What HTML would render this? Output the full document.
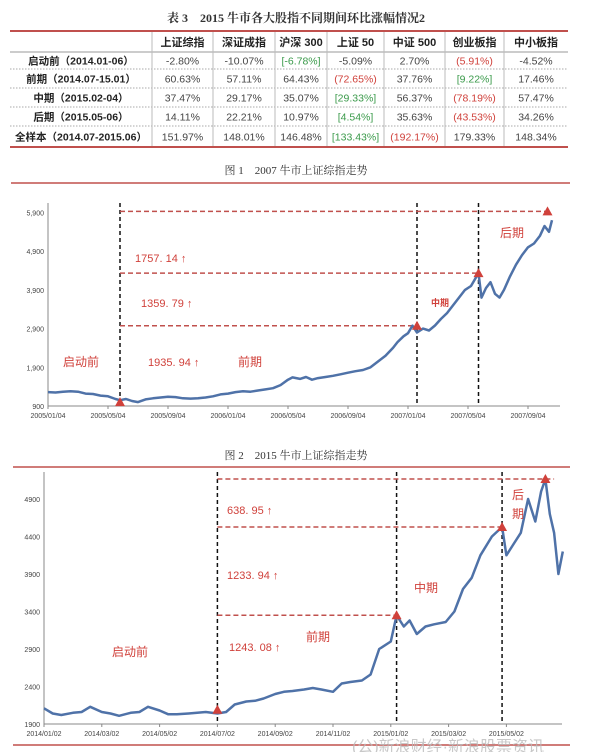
<!DOCTYPE html>
<html><head><meta charset="utf-8">
<style>
html,body{margin:0;padding:0;background:#fff;}
svg{display:block;font-family:"Liberation Sans","Noto Sans CJK SC",sans-serif;}
.serif{font-family:"Liberation Serif","Noto Serif CJK SC",serif;}
</style></head>
<body>
<svg id="page" width="593" height="752" viewBox="0 0 593 752" xmlns="http://www.w3.org/2000/svg">
  <text class="serif" x="296" y="22" text-anchor="middle" font-size="12" font-weight="bold" fill="#333">表 3　2015 牛市各大股指不同期间环比涨幅情况2</text>
  <g id="table"></g>

  <text class="serif" x="296" y="174" text-anchor="middle" font-size="11" fill="#333">图 1　2007 牛市上证综指走势</text>
  <line x1="11" y1="183" x2="570" y2="183" stroke="#c0504d" stroke-width="1.5"/>
  <g id="chart1"></g>

  <text class="serif" x="296" y="459" text-anchor="middle" font-size="11" fill="#333">图 2　2015 牛市上证综指走势</text>
  <line x1="13" y1="467" x2="570" y2="467" stroke="#c0504d" stroke-width="1.5"/>
  <g id="chart2"></g>
  <line x1="13" y1="745" x2="570" y2="745" stroke="#c0504d" stroke-width="1.5"/>
  <text x="352" y="752" font-size="16" fill="#bbb" opacity="0.8">(公)新浪财经·新浪股票资讯</text>
</svg>
<script>
// ---------- table data ----------
const tableHeaders = ["上证综指","深证成指","沪深 300","上证 50","中证 500","创业板指","中小板指"];
const tableRowLabels = ["启动前（2014.01-06）","前期（2014.07-15.01）","中期（2015.02-04）","后期（2015.05-06）","全样本（2014.07-2015.06）"];
const tableValues = [
  ["-2.80%","-10.07%","[-6.78%]","-5.09%","2.70%","(5.91%)","-4.52%"],
  ["60.63%","57.11%","64.43%","(72.65%)","37.76%","[9.22%]","17.46%"],
  ["37.47%","29.17%","35.07%","[29.33%]","56.37%","(78.19%)","57.47%"],
  ["14.11%","22.21%","10.97%","[4.54%]","35.63%","(43.53%)","34.26%"],
  ["151.97%","148.01%","146.48%","[133.43%]","(192.17%)","179.33%","148.34%"]
];

// ---------- chart 1 data (months since 2005/01/04, index value) ----------
const c1Months = [0,0.5,1,1.5,2,2.5,3,3.5,4,4.5,4.8,5.2,5.6,6,6.5,7,7.5,8,8.5,9,9.5,10,10.5,11,11.5,12,12.5,13,13.5,14,14.5,15,15.5,16,16.3,16.8,17.2,17.6,18,18.5,19,19.5,20,20.5,21,21.5,22,22.5,23,23.3,23.7,24,24.3,24.6,25,25.4,25.8,26.2,26.6,27,27.4,27.8,28.2,28.7,28.9,29.2,29.5,29.8,30.1,30.4,30.8,31.2,31.6,32,32.4,32.8,33.1,33.4,33.6];
const c1Values = [1260,1250,1270,1280,1270,1220,1210,1170,1150,1080,1050,1080,1030,1000,1070,1100,1120,1140,1130,1100,1090,1100,1120,1150,1200,1220,1260,1280,1270,1300,1330,1360,1440,1580,1640,1600,1650,1580,1620,1650,1680,1720,1760,1800,1830,1900,2050,2200,2400,2550,2700,2780,2975,2800,2900,2850,2980,3150,3300,3500,3700,3900,4000,4335,3700,3950,4100,3800,3700,3900,4250,4550,4800,5000,5100,5300,5550,5400,5700];
const c1Ticks = [900,1900,2900,3900,4900,5900];
const c1TickLabels = ["900","1,900","2,900","3,900","4,900","5,900"];
const c1XLabels = ["2005/01/04","2005/05/04","2005/09/04","2006/01/04","2006/05/04","2006/09/04","2007/01/04","2007/05/04","2007/09/04"];
const c1XMonths = [0,4,8,12,16,20,24,28,32];
const c1VLines = [4.8,24.6,28.7];
const c1Marks = [[4.8,1000],[24.6,2975],[28.7,4335],[33.3,5930]];
const c1HLevels = [[2975,24.6],[4335,28.7],[5930,33.6]];

// ---------- chart 2 data (months since 2014/01/02) ----------
const c2Months = [0,0.3,0.6,1,1.3,1.6,2,2.3,2.6,3,3.3,3.6,4,4.3,4.6,5,5.3,5.6,6,6.3,6.6,7,7.3,7.6,8,8.3,8.6,9,9.3,9.6,10,10.3,10.6,11,11.3,11.6,12,12.2,12.45,12.65,12.9,13.2,13.5,13.9,14.2,14.5,14.8,15.1,15.5,15.85,16.0,16.25,16.5,16.75,17.0,17.2,17.35,17.5,17.65,17.8,17.95];
const c2Values = [2110,2040,2020,2050,2060,2130,2060,2040,2010,2050,2060,2130,2080,2030,2030,2040,2050,2060,2040,2060,2160,2200,2210,2240,2300,2330,2340,2360,2380,2360,2330,2440,2460,2480,2560,2900,3000,3350,3200,3280,3100,3200,3230,3260,3400,3700,3850,4150,4400,4527,4150,4300,4450,4900,4600,5000,5166,4700,4450,3900,4200];
const c2Ticks = [1900,2400,2900,3400,3900,4400,4900];
const c2TickLabels = ["1900","2400","2900","3400","3900","4400","4900"];
const c2XLabels = ["2014/01/02","2014/03/02","2014/05/02","2014/07/02","2014/09/02","2014/11/02","2015/01/02","2015/03/02","2015/05/02"];
const c2XMonths = [0,2,4,6,8,10,12,14,16];
const c2VLines = [6,12.2,15.85];
const c2Marks = [[6,2090],[12.2,3350],[15.85,4527],[17.35,5166]];
const c2HLevels = [[3350,12.2],[4527,15.85],[5166,17.65]];

const NS = "http://www.w3.org/2000/svg";
function mk(tag, attrs, parent, text){
  const e = document.createElementNS(NS, tag);
  for (const k in attrs) e.setAttribute(k, attrs[k]);
  if (text !== undefined) e.textContent = text;
  parent.appendChild(e);
  return e;
}

// ---------- table ----------
(function(){
  const g = document.getElementById('table');
  const colX = [10,152,213,275,327,384,445,504,568];
  const rowY = [31,52,69,88,107,126,147];
  for (let i=2;i<rowY.length-1;i++){
    const l = mk('line',{x1:10,y1:rowY[i],x2:568,y2:rowY[i],stroke:'#aaa','stroke-dasharray':'1.5,1.5','stroke-width':1},g);
    
    
  }
  const hb = mk('line',{x1:10,y1:52,x2:568,y2:52,stroke:'#999','stroke-width':1},g);
  
  
  for (let j=1;j<colX.length-1;j++){
    const l = mk('line',{x1:colX[j],y1:31,x2:colX[j],y2:147,stroke:'#bbb','stroke-width':1},g);
    
    
  }
  const t = mk('line',{x1:10,y1:31,x2:568,y2:31,stroke:'#c0504d','stroke-width':2},g);
  
  
  const b = mk('line',{x1:10,y1:147,x2:568,y2:147,stroke:'#c0504d','stroke-width':2},g);
  
  
  tableHeaders.forEach((h,j)=>{
    const e = mk('text',{x:(colX[j+1]+colX[j+2])/2,y:46,'text-anchor':'middle','font-size':11,'font-weight':'bold',fill:'#222'},g,h);
    
    
  });
  tableRowLabels.forEach((r,i)=>{
    const y = (rowY[i+1]+rowY[i+2])/2+4;
    const e = mk('text',{x:(colX[0]+colX[1])/2,y:y,'text-anchor':'middle','font-size':10.5,'font-weight':'bold',fill:'#222'},g,r);
    
    
    tableValues[i].forEach((v,j)=>{
      let c = '#444';
      if (v[0]==='(') c = '#d0413b';
      if (v[0]==='[') c = '#3a9a4a';
      const c2 = mk('text',{x:(colX[j+1]+colX[j+2])/2,y:y,'text-anchor':'middle','font-size':10.5,fill:c},g,v);
      
      
    });
  });
})();

// ---------- chart builder ----------
function drawChart(cfg){
  const g = document.getElementById(cfg.id);
  const X = m => cfg.x0 + m*cfg.mpx;
  const Y = v => cfg.yBase - (v-cfg.vMin)/cfg.vStep*cfg.ypx;
  const ax = mk('line',{x1:cfg.x0,y1:Y(cfg.vMin),x2:cfg.xEnd,y2:Y(cfg.vMin),stroke:'#888','stroke-width':1},g);
  
  
  const ay = mk('line',{x1:cfg.x0,y1:Y(cfg.vMin),x2:cfg.x0,y2:cfg.yTop,stroke:'#888','stroke-width':1},g);
  
  
  cfg.ticks.forEach((v,i)=>{
    const e = mk('text',{x:cfg.x0-4,y:Y(v)+3,'text-anchor':'end','font-size':7,fill:'#444'},g,cfg.tickLabels[i]);
    
    
  });
  cfg.xMonths.forEach((m,i)=>{
    const tk = mk('line',{x1:X(m),y1:Y(cfg.vMin),x2:X(m),y2:Y(cfg.vMin)+3,stroke:'#888'},g);
    
    
    const e = mk('text',{x:X(m),y:Y(cfg.vMin)+12,'text-anchor':'middle','font-size':7,fill:'#444'},g,cfg.xLabels[i]);
    
    
  });
  cfg.vLines.forEach(m=>{
    const l = mk('line',{x1:X(m),y1:cfg.yTop,x2:X(m),y2:Y(cfg.vMin),stroke:'#111','stroke-width':1.5,'stroke-dasharray':'4,3'},g);
    
    
  });
  cfg.hLevels.forEach(h=>{
    const l = mk('line',{x1:X(cfg.vLines[0]),y1:Y(h[0]),x2:X(h[1]),y2:Y(h[0]),stroke:'#c0504d','stroke-width':1.5,'stroke-dasharray':'5,3'},g);
    
    
  });
  let d = '';
  cfg.months.forEach((m,i)=>{ d += (i?'L':'M') + X(m).toFixed(1) + ',' + Y(cfg.values[i]).toFixed(1); });
  const p = mk('path',{d:d,fill:'none',stroke:'#4f72a8','stroke-width':2.5,'stroke-linejoin':'round'},g);
  
  
  cfg.marks.forEach(mv=>{
    const x = X(mv[0]), y = Y(mv[1]);
    const t = mk('polygon',{points:`${x-5},${y+4} ${x+5},${y+4} ${x},${y-5}`,fill:'#d0413b'},g);
    
    
  });
  cfg.labels.forEach(lb=>{
    const e = mk('text',{x:lb[0],y:lb[1],'font-size':lb[3],fill:'#d0413b','font-weight':lb[4]||'normal'},g,lb[2]);
    
    
  });
}

drawChart({id:'chart1',x0:48,mpx:15,xEnd:560,yBase:406,vMin:900,vStep:1000,ypx:38.7,yTop:203,
  months:c1Months,values:c1Values,ticks:c1Ticks,tickLabels:c1TickLabels,xLabels:c1XLabels,xMonths:c1XMonths,
  vLines:c1VLines,marks:c1Marks,hLevels:c1HLevels,
  labels:[[135,262,"1757. 14 ↑",11],[141,307,"1359. 79 ↑",11],[148,366,"1935. 94 ↑",11],[63,366,"启动前",12],[238,366,"前期",12],[431,306,"中期",9,'bold'],[500,237,"后期",12]]});

drawChart({id:'chart2',x0:44,mpx:28.9,xEnd:562,yBase:724,vMin:1900,vStep:500,ypx:37.5,yTop:472,
  months:c2Months,values:c2Values,ticks:c2Ticks,tickLabels:c2TickLabels,xLabels:c2XLabels,xMonths:c2XMonths,
  vLines:c2VLines,marks:c2Marks,hLevels:c2HLevels,
  labels:[[227,514,"638. 95 ↑",11],[227,579,"1233. 94 ↑",11],[229,651,"1243. 08 ↑",11],[112,656,"启动前",12],[306,641,"前期",12],[414,592,"中期",12],[512,499,"后",12],[512,518,"期",12]]});
</script>
</body></html>
